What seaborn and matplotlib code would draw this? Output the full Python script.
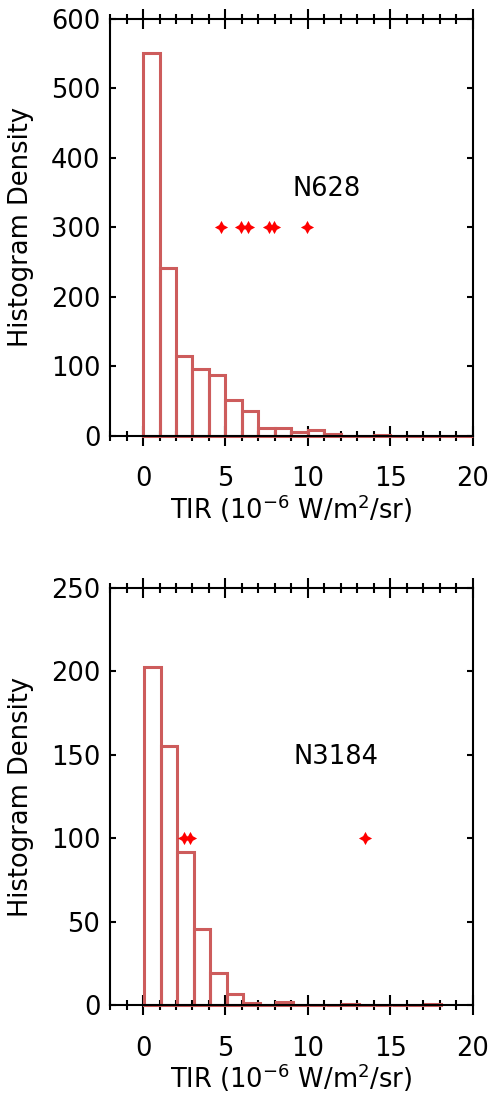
import numpy as np
import pandas as pd
import matplotlib.pyplot as plt
import seaborn as sns
from matplotlib.ticker import MultipleLocator

# N628: histogram bins (width 1) and bin heights
n628_edges = np.arange(0.0, 20.5, 1.0)
n628_density = [550, 242, 115, 96, 87, 52, 35, 11, 11, 6,
                9, 3, 0, 0, 1.5, 0, 0, 0, 0, 0]
n628_marks = [4.70, 5.96, 6.36, 7.62, 7.96, 9.92]
n628_mark_y = 300

# N3184: bins start at the data minimum (~0.07)
n3184_edges = np.arange(0.07, 18.1, 1.0)
n3184_density = [202.6, 155.4, 92, 45.6, 19.4, 6.6, 1.6, 0, 2.2,
                 0, 0, 0, 0.8, 0, 0, 0, 0, 0.8]
n3184_marks = [2.50, 2.86, 13.47]
n3184_mark_y = 100

panels = [
    ("N628", n628_edges, n628_density, n628_marks, n628_mark_y, (9.06, 355), 600, 100),
    ("N3184", n3184_edges, n3184_density, n3184_marks, n3184_mark_y, (9.1, 149), 250, 50),
]

sns.set_theme(style="white")
plt.rcParams['font.family'] = ['DejaVu Sans']
plt.rcParams['axes.linewidth'] = 1.5
for k in ['text.color', 'axes.labelcolor', 'xtick.color', 'ytick.color', 'axes.edgecolor']:
    plt.rcParams[k] = 'black'

bar_color = "#cd5c5c"
fs = 18.5
fig = plt.figure(figsize=(4.89, 10.95), dpi=100)
positions = [[0.225, 0.602, 0.742, 0.381], [0.225, 0.082, 0.742, 0.381]]

for (name, edges, dens, marks, mark_y, txt, ytop, ystep), pos in zip(panels, positions):
    ax = fig.add_axes(pos)
    df = pd.DataFrame({"tir": (edges[:-1] + edges[1:]) / 2, "density": dens})
    sns.histplot(data=df, x="tir", weights="density", bins=list(edges), fill=False,
                 element="bars", color=bar_color, linewidth=2.2, alpha=1, ax=ax)
    for p in ax.patches:
        p.set_clip_on(False)
    sns.scatterplot(x=marks, y=[mark_y] * len(marks), marker=(4, 1, 0), s=90,
                    color="red", linewidth=0, zorder=5, ax=ax)
    ax.text(txt[0], txt[1], name, fontsize=fs, va="center", ha="left")

    ax.set_xlim(-2, 20)
    ax.set_ylim(0, ytop)
    ax.xaxis.set_major_locator(MultipleLocator(5))
    ax.xaxis.set_minor_locator(MultipleLocator(1))
    ax.yaxis.set_major_locator(MultipleLocator(ystep))
    ax.tick_params(axis="x", which="major", direction="inout", length=14, width=1.5,
                   top=True, bottom=True, pad=15, labelsize=fs)
    ax.tick_params(axis="x", which="minor", direction="inout", length=7, width=1.5,
                   top=True, bottom=True)
    ax.tick_params(axis="y", which="major", direction="in", length=4.5, width=1.5,
                   left=True, right=True, pad=7, labelsize=fs)
    for s in ax.spines.values():
        s.set_linewidth(1.5)
    ax.set_xlabel("TIR (10$^{-6}$ W/m$^{2}$/sr)", fontsize=fs, labelpad=0)
    ax.set_ylabel("Histogram Density", fontsize=fs, labelpad=12)

fig.savefig("out.png", dpi=100)
